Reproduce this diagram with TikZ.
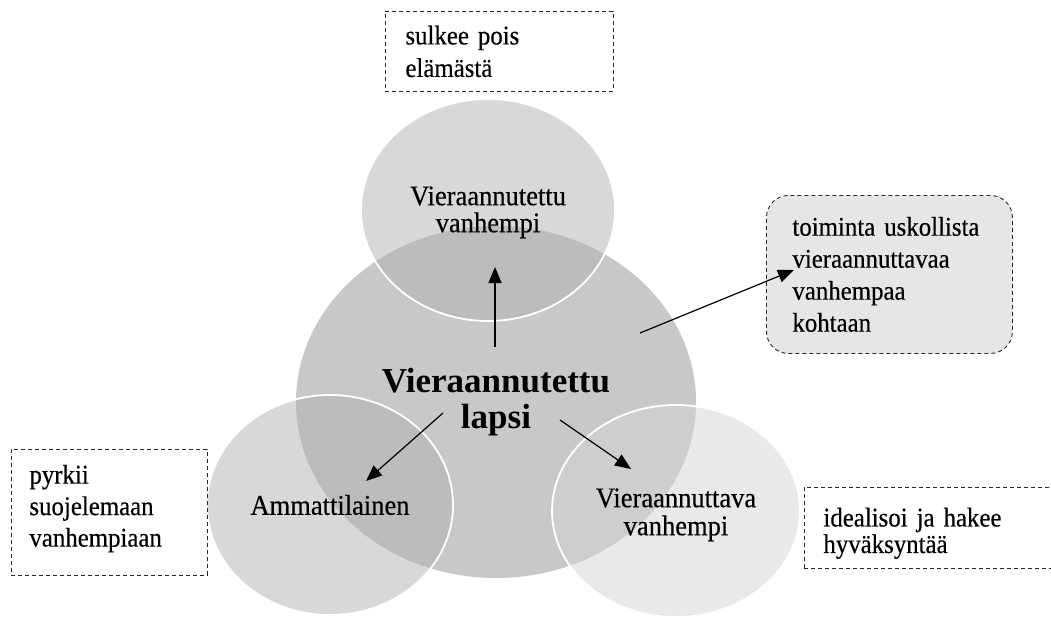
\documentclass[tikz,border=0pt]{standalone}
\usepackage{fontspec}
\setmainfont{Liberation Serif}
\newfontfamily\boxfont{Liberation Serif}[FakeStretch=0.92,FakeBold=0.4]
\newfontfamily\blobfont{Liberation Serif}[FakeStretch=0.93,FakeBold=0.4]
\newcommand\notefont[1]{\boxfont\fontsize{27}{#1}\selectfont\spaceskip=6pt\relax}
\usetikzlibrary{shapes.geometric,arrows.meta}
\definecolor{bigc}{gray}{0.784}
\definecolor{topc}{gray}{0.70}
\definecolor{rightc}{gray}{0.83}
\definecolor{boxc}{gray}{0.902}
\begin{document}
\begin{tikzpicture}[x=1pt,y=-1pt,
 blob/.style={ellipse, inner sep=0pt, draw=white, line width=1.8pt, fill opacity=0.5, text opacity=1, align=center},
 note/.style={draw=black!85, dash pattern=on 4pt off 3pt, line width=0.9pt, align=left, anchor=north west, inner ysep=0pt},
 arr/.style={line width=1.2pt, -{Triangle[length=16pt,width=13pt]}}]
\useasboundingbox (0,0) rectangle (1051,618);
\clip (0,0) rectangle (1051,618);
\fill[white] (0,0) rectangle (1051,618);
\node[ellipse, fill=bigc, minimum width=400pt, minimum height=352pt, inner sep=0pt, align=center, font=\bfseries\fontsize{35}{36}\selectfont] (child) at (496,402) {Vieraannutettu\\lapsi};
\node[blob, fill=topc, minimum width=254pt, minimum height=222pt, font=\blobfont\fontsize{28.5}{27}\selectfont] (alienated) at (488,210) {\rule{0pt}{23.5pt}Vieraannutettu\\vanhempi};
\node[blob, fill=topc, minimum width=246pt, minimum height=220pt, font=\blobfont\fontsize{28.5}{28}\selectfont] (pro) at (330,505) {Ammattilainen};
\node[blob, fill=rightc, minimum width=248pt, minimum height=212pt, font=\blobfont\fontsize{28.5}{28}\selectfont] (alienating) at (676,511) {\rule{0pt}{26.5pt}Vieraannuttava\\vanhempi};
\node[note, text width=188pt, inner xsep=20pt, minimum height=80pt, font={\notefont{32.5}}] (b1) at (385,11) {sulkee pois\\elämästä};
\node[note, rounded corners=22pt, fill=boxc, text width=194pt, inner xsep=26pt, minimum height=158pt, font={\notefont{32}}] (b2) at (766,195) {toiminta uskollista\\vieraannuttavaa\\vanhempaa\\kohtaan};
\node[note, text width=160pt, inner xsep=18pt, minimum height=126pt, font={\notefont{31.5}}] (b3) at (11,449) {pyrkii\\suojelemaan\\vanhempiaan\rule[-13.5pt]{0pt}{13.5pt}};
\node[note, text width=240pt, inner xsep=19pt, minimum height=81pt, font={\notefont{26.5}}] (b4) at (804,487) {\rule{0pt}{29.4pt}idealisoi ja hakee\\hyväksyntää};
\coordinate (u0) at (495,347); \coordinate (u1) at (495,267);
\coordinate (l0) at (443,413); \coordinate (l1) at (366,481);
\coordinate (r0) at (560,420); \coordinate (r1) at (631,469);
\coordinate (e0) at (640,333); \coordinate (e1) at (794,270);
\draw[arr] (u0) -- (u1);
\draw[arr] (l0) -- (l1);
\draw[arr] (r0) -- (r1);
\draw[arr] (e0) -- (e1);
\end{tikzpicture}
\end{document}
